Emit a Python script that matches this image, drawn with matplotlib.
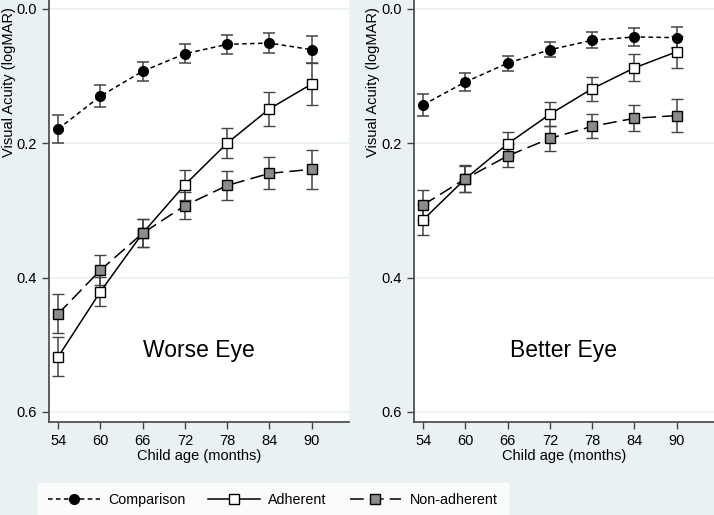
import matplotlib
matplotlib.use("Agg")
import matplotlib.pyplot as plt

plt.rcParams['font.family'] = ['Liberation Sans', 'DejaVu Sans']

ages = [54, 60, 66, 72, 78, 84, 90]
x_ticks = [54, 60, 66, 72, 78, 84, 90]
y_ticks = [0.0, 0.2, 0.4, 0.6]

# Worse eye
worse_comp = [0.179, 0.130, 0.093, 0.067, 0.053, 0.051, 0.061]
worse_comp_err = [0.021, 0.016, 0.014, 0.014, 0.014, 0.015, 0.020]
worse_adh = [0.518, 0.421, 0.334, 0.262, 0.200, 0.149, 0.112]
worse_adh_err = [0.029, 0.022, 0.021, 0.022, 0.022, 0.025, 0.031]
worse_non = [0.454, 0.389, 0.334, 0.293, 0.263, 0.245, 0.239]
worse_non_err = [0.029, 0.022, 0.021, 0.020, 0.022, 0.024, 0.029]

# Better eye
better_comp = [0.143, 0.109, 0.081, 0.061, 0.047, 0.042, 0.043]
better_comp_err = [0.016, 0.013, 0.011, 0.011, 0.012, 0.013, 0.016]
better_adh = [0.314, 0.253, 0.201, 0.157, 0.119, 0.088, 0.064]
better_adh_err = [0.023, 0.019, 0.018, 0.018, 0.018, 0.020, 0.024]
better_non = [0.292, 0.253, 0.219, 0.193, 0.175, 0.163, 0.159]
better_non_err = [0.022, 0.020, 0.017, 0.018, 0.018, 0.019, 0.024]

BG = "#eaf1f3"
W, H = 714, 515

fig = plt.figure(figsize=(W / 100, H / 100), dpi=100)
fig.patch.set_facecolor(BG)


def draw_panel(ax, comp, comp_err, adh, adh_err, non, non_err, title):
    ax.set_facecolor("white")
    for y in y_ticks:
        ax.axhline(y, color=BG, lw=1.2, zorder=0)
    err_kw = dict(ecolor="#444444", elinewidth=1.1, capsize=4, capthick=1.1)
    ax.errorbar(ages, comp, yerr=comp_err, color="black", lw=1.1, dashes=(3, 2.2),
                marker="o", ms=7, mfc="black", mec="black", label="Comparison", **err_kw)
    ax.errorbar(ages, adh, yerr=adh_err, color="black", lw=1.1, ls="-",
                marker="s", ms=7, mfc="white", mec="black", mew=1.0, label="Adherent", **err_kw)
    ax.errorbar(ages, non, yerr=non_err, color="black", lw=1.1, dashes=(9, 4),
                marker="s", ms=7, mfc="#8c8c8c", mec="black", mew=1.0, label="Non-adherent", **err_kw)
    ax.set_xlim(52.7, 95.3)
    ax.set_ylim(0.615, -0.013)
    ax.set_xticks(x_ticks)
    ax.set_yticks(y_ticks)
    ax.set_yticklabels(["%.1f" % v for v in y_ticks])
    ax.tick_params(axis="both", labelsize=10.5, length=5, color="#444444", width=1)
    for s in ["top", "right"]:
        ax.spines[s].set_visible(False)
    for s in ["left", "bottom"]:
        ax.spines[s].set_color("#444444")
        ax.spines[s].set_linewidth(1.2)
    ax.set_xlabel("Child age (months)", fontsize=10.5, labelpad=1)
    ax.text(0.5, 0.17, title, transform=ax.transAxes, ha="center", va="center", fontsize=16.5)


ax1 = fig.add_axes([49 / W, (H - 422) / H, 300 / W, 422 / H])
ax2 = fig.add_axes([414 / W, (H - 422) / H, 300 / W, 422 / H])
draw_panel(ax1, worse_comp, worse_comp_err, worse_adh, worse_adh_err, worse_non, worse_non_err, "Worse Eye")
draw_panel(ax2, better_comp, better_comp_err, better_adh, better_adh_err, better_non, better_non_err, "Better Eye")

fig.text(9 / W, 1 - 82 / H, "Visual Acuity (logMAR)", rotation=90, ha="center", va="center", fontsize=10.5)
fig.text(373 / W, 1 - 82 / H, "Visual Acuity (logMAR)", rotation=90, ha="center", va="center", fontsize=10.5)

handles, labels = ax1.get_legend_handles_labels()
handles = [h[0] for h in handles]
leg = fig.legend(handles, labels, loc="lower left", bbox_to_anchor=(38 / W, -0.004), ncol=3,
                 fontsize=10.3, frameon=True, fancybox=False, handlelength=3.6,
                 columnspacing=1.6, handletextpad=0.6, borderpad=0.7, borderaxespad=0)
leg.get_frame().set_facecolor("white")
leg.get_frame().set_edgecolor("white")

fig.savefig("out.png", dpi=100, facecolor=BG)
